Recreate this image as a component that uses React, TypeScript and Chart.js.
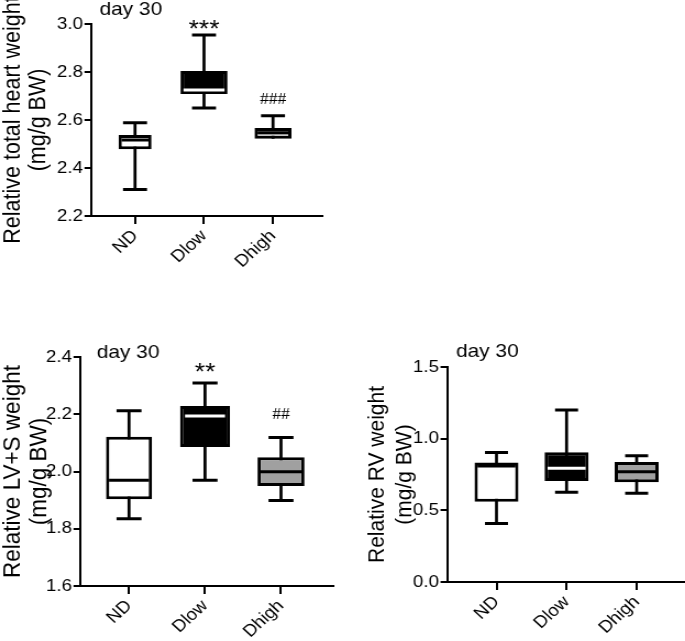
import React, { useEffect, useRef } from 'react';
import { Chart, registerables } from 'chart.js';

Chart.register(...registerables);

// ---------- data ----------
const categories = ['ND', 'Dlow', 'Dhigh'];

// Relative total heart weight (mg/g BW)
const heartMin = [2.31, 2.65, 2.522];
const heartQ1 = [2.478, 2.708, 2.522];
const heartMedian = [2.517, 2.725, 2.547];
const heartQ3 = [2.538, 2.804, 2.567];
const heartMax = [2.589, 2.954, 2.618];
const heartTicks = [2.2, 2.4, 2.6, 2.8, 3.0];
const heartSig = ['', '***', '###'];

// Relative LV+S weight (mg/g BW)
const lvsMin = [1.835, 1.969, 1.899];
const lvsQ1 = [1.903, 2.086, 1.949];
const lvsMedian = [1.969, 2.194, 1.999];
const lvsQ3 = [2.121, 2.229, 2.05];
const lvsMax = [2.212, 2.309, 2.119];
const lvsTicks = [1.6, 1.8, 2.0, 2.2, 2.4];
const lvsSig = ['', '**', '##'];

// Relative RV weight (mg/g BW)
const rvMin = [0.409, 0.626, 0.619];
const rvQ1 = [0.56, 0.705, 0.696];
const rvMedian = [0.81, 0.794, 0.77];
const rvQ3 = [0.833, 0.905, 0.838];
const rvMax = [0.903, 1.2, 0.88];
const rvTicks = [0.0, 0.5, 1.0, 1.5];
const rvSig = ['', '', ''];

const dayLabel = 'day 30';

// ---------- styles ----------
const SANS = '"Liberation Sans", Arial, Helvetica, sans-serif';
const SERIF = '"Liberation Serif", "Times New Roman", serif';
const H_STRETCH = 1.1; // the figure is slightly wider than tall in its glyphs

type PanelData = {
  min: number[]; q1: number[]; median: number[]; q3: number[]; max: number[];
  ticks: number[]; sig: string[]; yTitle: string[];
};

// all horizontal sizes below are in page (CSS) pixels
type PanelStyle = {
  left: number; top: number; width: number; height: number;
  yAxisWidth: number; xAxisHeight: number; padTop: number; padRight: number;
  xMin: number; xMax: number;
  yTitleSize: number; yTitleLineGap: number;
  boxWidths: number[]; capRadius: number; medianRadius: number[];
  fills: string[]; medianColors: string[];
  dayDx: number; dayDy: number;
  sigDy: number[];
};

const heartData: PanelData = {
  min: heartMin, q1: heartQ1, median: heartMedian, q3: heartQ3, max: heartMax,
  ticks: heartTicks, sig: heartSig, yTitle: ['Relative total heart weight', '(mg/g BW)'],
};
const lvsData: PanelData = {
  min: lvsMin, q1: lvsQ1, median: lvsMedian, q3: lvsQ3, max: lvsMax,
  ticks: lvsTicks, sig: lvsSig, yTitle: ['Relative LV+S weight', '(mg/g BW)'],
};
const rvData: PanelData = {
  min: rvMin, q1: rvQ1, median: rvMedian, q3: rvQ3, max: rvMax,
  ticks: rvTicks, sig: rvSig, yTitle: ['Relative RV weight', '(mg/g BW)'],
};

const heartStyle: PanelStyle = {
  left: 0, top: 0, width: 330, height: 300,
  yAxisWidth: 91, xAxisHeight: 84, padTop: 24, padRight: 8,
  xMin: -0.638, xMax: 2.71, yTitleSize: 21.5, yTitleLineGap: 26,
  boxWidths: [33, 47, 37], capRadius: 12, medianRadius: [13.5, 20.5, 15.5],
  fills: ['#ffffff', '#000000', '#c8c8c8'], medianColors: ['#000000', '#ffffff', '#000000'],
  dayDx: 8.5, dayDy: -9, sigDy: [0, -1.5, 11.7],
};
const lvsStyle: PanelStyle = {
  left: 0, top: 330, width: 341, height: 311,
  yAxisWidth: 80, xAxisHeight: 55, padTop: 27, padRight: 8,
  xMin: -0.645, xMax: 2.684, yTitleSize: 22.5, yTitleLineGap: 26.5,
  boxWidths: [46, 50, 47], capRadius: 12.5, medianRadius: [20, 20, 20.5],
  fills: ['#ffffff', '#000000', '#a0a0a0'], medianColors: ['#000000', '#ffffff', '#000000'],
  dayDx: 16.7, dayDy: 1.3, sigDy: [0, 3.5, 18.3],
};
const rvStyle: PanelStyle = {
  left: 364, top: 330, width: 321, height: 311,
  yAxisWidth: 83, xAxisHeight: 59, padTop: 37, padRight: 0,
  xMin: -0.706, xMax: 2.69, yTitleSize: 21, yTitleLineGap: 27,
  boxWidths: [44, 44, 44], capRadius: 11.5, medianRadius: [19, 19, 19],
  fills: ['#ffffff', '#000000', '#a0a0a0'], medianColors: ['#000000', '#ffffff', '#000000'],
  dayDx: 9, dayDy: -10.3, sigDy: [0, 0, 0],
};

const internalWidth = (s: PanelStyle) => Math.round(s.width / H_STRETCH);

function makeChart(canvas: HTMLCanvasElement, d: PanelData, s: PanelStyle) {
  const kx = s.width / internalWidth(s); // css px per canvas px, horizontally
  const hx = (v: number) => v / kx;
  const idx = categories.map((_, i) => i);
  const datasets: any[] = [];

  // whiskers (min..max)
  datasets.push({
    type: 'bar',
    label: 'whisker',
    data: idx.map((i) => ({ x: i, y: [d.min[i], d.max[i]] })),
    backgroundColor: '#000000',
    borderWidth: 0,
    grouped: false,
    barThickness: hx(3),
    maxBarThickness: hx(3),
    inflateAmount: 0,
    order: 5,
  });

  // boxes (q1..q3)
  idx.forEach((i) => {
    datasets.push({
      type: 'bar',
      label: categories[i],
      data: [{ x: i, y: [d.q1[i], d.q3[i]] }],
      backgroundColor: s.fills[i],
      borderColor: '#000000',
      borderWidth: 3,
      borderSkipped: false,
      grouped: false,
      barThickness: hx(s.boxWidths[i]),
      maxBarThickness: hx(s.boxWidths[i]),
      inflateAmount: 0,
      order: 3,
    });
  });

  // whisker caps
  datasets.push({
    type: 'scatter',
    label: 'caps',
    data: idx.flatMap((i) => [{ x: i, y: d.max[i] }, { x: i, y: d.min[i] }]),
    pointStyle: 'line',
    pointRadius: (ctx: any) => {
      const i = Math.floor(ctx.dataIndex / 2);
      const isLow = ctx.dataIndex % 2 === 1;
      if (isLow && d.min[i] >= d.q1[i]) return 0;
      return hx(s.capRadius);
    },
    pointHoverRadius: 0,
    pointBorderColor: '#000000',
    pointBorderWidth: 3,
    order: 1,
  });

  // medians
  datasets.push({
    type: 'scatter',
    label: 'median',
    data: idx.map((i) => ({ x: i, y: d.median[i] })),
    pointStyle: 'line',
    pointRadius: s.medianRadius.map(hx),
    pointHoverRadius: 0,
    pointBorderColor: s.medianColors,
    pointBorderWidth: 3,
    order: 0,
  });

  const textPlugin = {
    id: 'panelText',
    afterDraw(chart: any) {
      const ctx = chart.ctx;
      const { left, top } = chart.chartArea;
      ctx.save();
      ctx.fillStyle = '#000000';
      ctx.font = `19px ${SANS}`;
      ctx.textAlign = 'left';
      ctx.textBaseline = 'alphabetic';
      ctx.fillText(dayLabel, left + hx(s.dayDx), top + s.dayDy);
      const xs = chart.scales.x;
      const ys = chart.scales.y;
      d.sig.forEach((txt, i) => {
        if (!txt) return;
        const x = xs.getPixelForValue(i);
        const y = ys.getPixelForValue(d.max[i]) - s.sigDy[i];
        ctx.font = txt.startsWith('#') ? `16px ${SERIF}` : `24px ${SANS}`;
        ctx.textAlign = 'center';
        ctx.fillText(txt, x, y);
      });
      ctx.restore();
    },
  };

  const tickFont = { family: SANS, size: 17 };
  const yTicks = d.ticks;

  return new Chart(canvas, {
    type: 'bar',
    data: { datasets },
    options: {
      responsive: false,
      animation: false,
      devicePixelRatio: 1,
      events: [],
      layout: { autoPadding: false, padding: { left: 0, top: s.padTop, right: hx(s.padRight), bottom: 0 } },
      plugins: { legend: { display: false }, tooltip: { enabled: false }, title: { display: false } },
      scales: {
        x: {
          type: 'linear',
          min: s.xMin,
          max: s.xMax,
          offset: false,
          grid: {
            display: true, drawOnChartArea: false, drawTicks: true, tickLength: 8,
            color: '#000000', lineWidth: 2, offset: false,
          },
          border: { display: true, color: '#000000', width: 2 },
          ticks: {
            autoSkip: false, maxRotation: 45, minRotation: 45, padding: 2,
            color: '#000000', font: tickFont,
            callback: (v: any) => categories[Math.round(Number(v))] ?? '',
          },
          afterBuildTicks: (scale: any) => {
            scale.ticks = categories.map((_, i) => ({ value: i }));
          },
          afterFit: (scale: any) => {
            scale.height = s.xAxisHeight;
            scale.paddingLeft = 0;
            scale.paddingRight = 0;
          },
        },
        y: {
          type: 'linear',
          min: yTicks[0],
          max: yTicks[yTicks.length - 1],
          beginAtZero: false,
          grid: {
            display: true, drawOnChartArea: false, drawTicks: true, tickLength: hx(6.5),
            color: '#000000', lineWidth: 2,
          },
          border: { display: true, color: '#000000', width: 2 },
          ticks: {
            padding: hx(1.5), color: '#000000', font: tickFont,
            callback: (v: any) => Number(v).toFixed(1),
          },
          afterBuildTicks: (scale: any) => {
            scale.ticks = yTicks.map((v) => ({ value: v }));
          },
          title: {
            display: true,
            text: d.yTitle,
            color: '#000000',
            font: { family: SANS, size: s.yTitleSize, lineHeight: hx(s.yTitleLineGap) / s.yTitleSize },
            padding: 0,
          },
          afterFit: (scale: any) => {
            scale.width = hx(s.yAxisWidth);
            scale.paddingTop = 0;
            scale.paddingBottom = 0;
          },
        },
      },
    } as any,
    plugins: [textPlugin],
  });
}

export default function App() {
  const r1 = useRef<HTMLCanvasElement>(null);
  const r2 = useRef<HTMLCanvasElement>(null);
  const r3 = useRef<HTMLCanvasElement>(null);

  useEffect(() => {
    const charts: Chart[] = [];
    if (r1.current) charts.push(makeChart(r1.current, heartData, heartStyle));
    if (r2.current) charts.push(makeChart(r2.current, lvsData, lvsStyle));
    if (r3.current) charts.push(makeChart(r3.current, rvData, rvStyle));
    return () => charts.forEach((c) => c.destroy());
  }, []);

  const canvasStyle = (s: PanelStyle): React.CSSProperties => ({
    position: 'absolute', left: s.left, top: s.top, width: s.width, height: s.height,
  });

  return (
    <div style={{ position: 'absolute', left: 0, top: 0, width: 685, height: 641, background: '#ffffff', overflow: 'hidden' }}>
      <canvas ref={r1} width={internalWidth(heartStyle)} height={heartStyle.height} style={canvasStyle(heartStyle)} />
      <canvas ref={r2} width={internalWidth(lvsStyle)} height={lvsStyle.height} style={canvasStyle(lvsStyle)} />
      <canvas ref={r3} width={internalWidth(rvStyle)} height={rvStyle.height} style={canvasStyle(rvStyle)} />
    </div>
  );
}
